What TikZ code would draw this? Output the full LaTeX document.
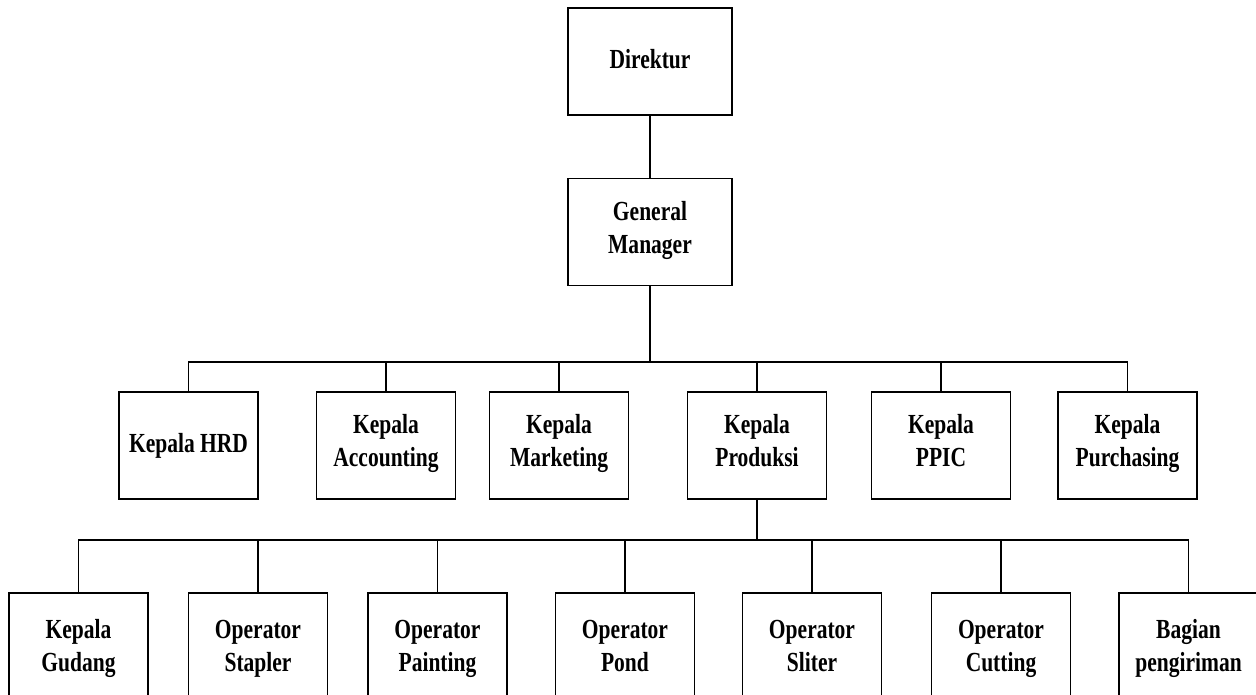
\documentclass[tikz,border=0pt]{standalone}
\usepackage{fontspec}
\newfontfamily\orgfont{Liberation Serif}[FakeStretch=0.78]
\usetikzlibrary{positioning}

\begin{document}
\begin{tikzpicture}[
    x=0.02cm, y=-0.02cm,
    % Styles
    unit/.style={% For the boxes of the chart
        rectangle,
        draw,
        line width=1.1pt,
        align=center,
        inner sep=0pt,
        font=\orgfont\bfseries\fontsize{15.7}{18.8}\selectfont,
        execute at begin node=\strut,
        execute at end node=\strut,
        },
    top/.style={% Direktur and General Manager
        unit,
        minimum width=164*0.02cm,
        minimum height=107*0.02cm,
        },
    head/.style={% For the Kepala boxes
        unit,
        minimum width=139*0.02cm,
        minimum height=107*0.02cm,
        },
    staff/.style={% For the boxes under Produksi
        unit,
        minimum width=139*0.02cm,
        minimum height=115*0.02cm,
        },
    link/.style={% Connectors
        line width=1.1pt,
        },
    ]
\useasboundingbox (0,0) rectangle (1256,694);
\begin{scope}
\clip (0,0) rectangle (1256,694);
% Top of the chart
\node [top] (dir) at (650,61.5) {Direktur};
\node [top] (gm) at (650,232) {General\\Manager};
% Kepala boxes
\node [head] (hrd) at (188.5,445.5) {Kepala HRD};
\node [head] (acc) at (386,445.5) {Kepala\\Accounting};
\node [head] (mkt) at (559,445.5) {Kepala\\Marketing};
\node [head] (prd) at (757,445.5) {Kepala\\Produksi};
\node [head] (ppic) at (941,445.5) {Kepala\\PPIC};
\node [head] (pur) at (1127.5,445.5) {Kepala\\Purchasing};
% Boxes under Kepala Produksi
\node [staff] (gud) at (78.5,650.5) {Kepala\\Gudang};
\node [staff] (sta) at (258,650.5) {Operator\\Stapler};
\node [staff] (pai) at (437.5,650.5) {Operator\\Painting};
\node [staff] (pon) at (625,650.5) {Operator\\Pond};
\node [staff] (sli) at (812,650.5) {Operator\\Sliter};
\node [staff] (cut) at (1001,650.5) {Operator\\Cutting};
\node [staff] (bag) at (1188.5,650.5) {Bagian\\pengiriman};
% Bus lines
\coordinate (bus1) at (650,362);
\coordinate (bus2) at (757,540);
% Connecting all
\draw [link] (dir) -- (gm);
\draw [link] (gm) -- (bus1);
\draw [link] (hrd.north) -- (hrd.north |- bus1) -- (pur.north |- bus1) -- (pur.north);
\foreach \n in {acc, mkt, prd, ppic}
    \draw [link] (\n.north) -- (\n.north |- bus1);
\draw [link] (prd) -- (bus2);
\draw [link] (gud.north) -- (gud.north |- bus2) -- (bag.north |- bus2) -- (bag.north);
\foreach \n in {sta, pai, pon, sli, cut}
    \draw [link] (\n.north) -- (\n.north |- bus2);
\end{scope}
\end{tikzpicture}
\end{document}
